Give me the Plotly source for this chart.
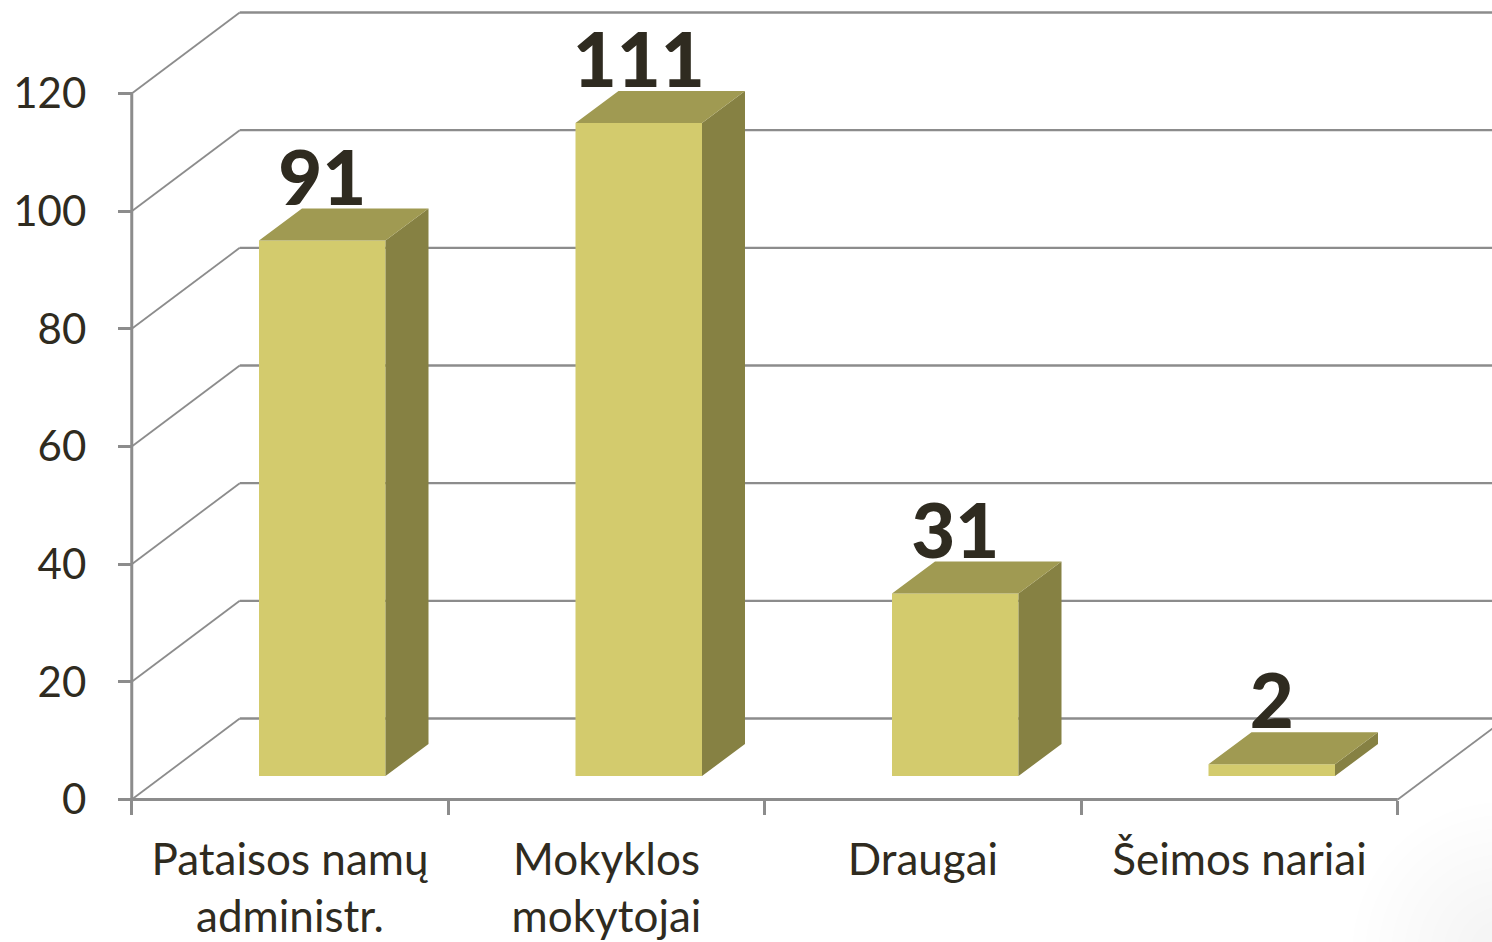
import plotly.graph_objects as go

categories = ["Pataisos namų<br>administr.", "Mokyklos<br>mokytojai", "Draugai", "Šeimos nariai"]
values = [91, 111, 31, 2]
value_labels = ["91", "111", "31", "2"]
y_ticks = [0, 20, 40, 60, 80, 100, 120]

W, H = 1492, 942
PX_X = 316.5            # pixels per category
PX_Y = (799.5 - 93.5) / 120  # pixels per value unit
X0_PX, Y0_PX = 290, 799.5
FONT = "Lato, Carlito, Calibri, sans-serif"
TEXT = "#2F2B20"
GRID = "#8C8C8C"

x_range = [-X0_PX / PX_X, (W - X0_PX) / PX_X]
y_range = [-(H - Y0_PX) / PX_Y, Y0_PX / PX_Y]

wall_dx, wall_dy = 108 / PX_X, 81 / PX_Y
bar_dx, bar_dy = 43 / PX_X, 32 / PX_Y
bar_floor = 23.5 / PX_Y
bar_w = 126.5 / PX_X
bar_off = (259 - X0_PX) / PX_X
label_lift = 17 / PX_Y
x_left, x_right = -0.5, 3.5

shapes = []


def line(x0, y0, x1, y1, w=2.2):
    shapes.append(dict(type="line", xref="x", yref="y", x0=x0, y0=y0, x1=x1, y1=y1,
                       layer="below", line=dict(color=GRID, width=w)))


# soft vignette in the lower right corner of the slide
for r in range(150, 20, -13):
    shapes.append(dict(type="circle", xref="paper", yref="paper", layer="below",
                       x0=1 - (r - 10) / W, x1=1 + (r + 10) / W,
                       y0=-(r + 10) / H, y1=(r - 10) / H,
                       fillcolor="black", opacity=0.003, line=dict(width=0)))

for t in y_ticks:
    line(x_left, t, x_left + wall_dx, t + wall_dy, 1.8)
    line(x_left + wall_dx, t + wall_dy, x_range[1] + 0.1, t + wall_dy, 2.4)
line(x_left, 0, x_left, 120, 3)
line(x_left, 0, x_right, 0, 3)
line(x_right, 0, x_right + wall_dx, wall_dy, 1.8)

fig = go.Figure()

fig.add_trace(go.Bar(
    x=list(range(len(values))), y=values, base=bar_floor, width=bar_w, offset=bar_off,
    marker=dict(color="#D3CB6D", line=dict(width=0)), showlegend=False, hoverinfo="skip"))

top_x, top_y, side_x, side_y = [], [], [], []
for i, v in enumerate(values):
    xl = i + bar_off
    xr = xl + bar_w
    b = bar_floor
    t = bar_floor + v
    top_x += [xl, xr, xr + bar_dx, xl + bar_dx, xl, None]
    top_y += [t, t, t + bar_dy, t + bar_dy, t, None]
    side_x += [xr, xr + bar_dx, xr + bar_dx, xr, xr, None]
    side_y += [b, b + bar_dy, t + bar_dy, t, b, None]

fig.add_trace(go.Scatter(x=side_x, y=side_y, mode="lines", fill="toself", fillcolor="#868143",
                         line=dict(width=0), showlegend=False, hoverinfo="skip"))
fig.add_trace(go.Scatter(x=top_x, y=top_y, mode="lines", fill="toself", fillcolor="#A09A52",
                         line=dict(width=0), showlegend=False, hoverinfo="skip"))

fig.add_trace(go.Scatter(
    x=[i + bar_off + bar_w / 2 for i in range(len(values))],
    y=[v + bar_floor + label_lift for v in values],
    mode="text", text=value_labels, textposition="top center", cliponaxis=False,
    textfont=dict(family=FONT, size=76, color=TEXT, weight=900),
    showlegend=False, hoverinfo="skip"))

fig.update_layout(
    width=W, height=H, margin=dict(l=0, r=0, t=0, b=0, autoexpand=False),
    paper_bgcolor="white", plot_bgcolor="rgba(0,0,0,0)",
    shapes=shapes, showlegend=False, barmode="overlay",
    xaxis=dict(
        range=x_range, domain=[0, 1], anchor="free", position=(H - Y0_PX) / H,
        automargin=False,
        tickmode="array", tickvals=list(range(len(categories))), ticktext=categories,
        ticks="", showgrid=False, zeroline=False, showline=False,
        tickfont=dict(family=FONT, size=44, color=TEXT), ticklabelstandoff=30,
        minor=dict(tickvals=[-0.5, 0.5, 1.5, 2.5, 3.5], ticks="outside", ticklen=14,
                   tickwidth=3, tickcolor=GRID, showgrid=False),
    ),
    yaxis=dict(
        range=y_range, domain=[0, 1], anchor="free", position=(X0_PX - 0.5 * PX_X) / W,
        automargin=False,
        tickmode="array", tickvals=y_ticks, ticks="outside", ticklen=14, tickwidth=3,
        tickcolor=GRID, showgrid=False, zeroline=False, showline=False,
        tickfont=dict(family=FONT, size=42, color=TEXT), ticklabelstandoff=23,
    ),
)

fig.write_html("out.html", config=dict(displayModeBar=False),
               post_script="document.body.style.margin='0';")
